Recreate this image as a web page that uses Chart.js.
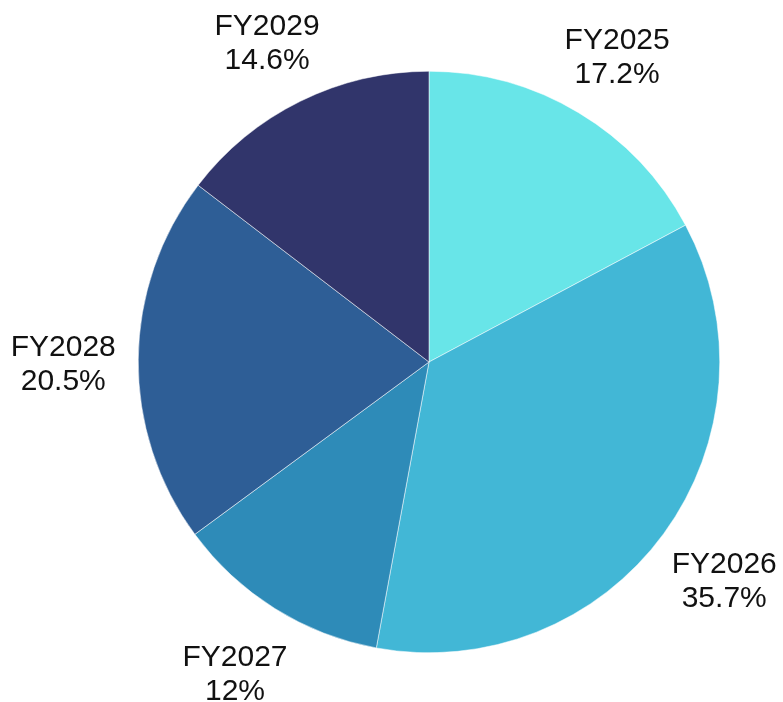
<!DOCTYPE html>
<html lang="en">
<head>
    <meta charset="UTF-8">
    <title>FY Share Pie</title>
    <script src="https://cdn.jsdelivr.net/npm/chart.js"></script>
    <style>
        html, body { margin: 0; padding: 0; background: #ffffff; }
        #wrap { width: 783px; height: 702px; }
    </style>
</head>
<body>
    <div id="wrap"><canvas id="shareChart" width="783" height="702"></canvas></div>

    <script>
        // Data
        const labels = ['FY2025', 'FY2026', 'FY2027', 'FY2028', 'FY2029'];
        const shares = [17.2, 35.7, 12, 20.5, 14.6];
        const colors = ['#68E5E8', '#42B7D6', '#2E8BB8', '#2E5E96', '#31356B'];

        // Labels sit outside each slice on its mid-angle (two lines, centred)
        const outsideLabels = {
            id: 'outsideLabels',
            afterDatasetsDraw(chart) {
                const ctx = chart.ctx;
                const meta = chart.getDatasetMeta(0);
                ctx.save();
                ctx.font = '30px "Liberation Sans", Arial, sans-serif';
                ctx.fillStyle = '#111111';
                ctx.textAlign = 'center';
                ctx.textBaseline = 'alphabetic';
                meta.data.forEach((arc, i) => {
                    const p = arc.getProps(['x', 'y', 'startAngle', 'endAngle', 'outerRadius'], true);
                    const mid = (p.startAngle + p.endAngle) / 2;
                    const x = p.x + Math.cos(mid) * (p.outerRadius + 75);
                    const y = p.y + Math.sin(mid) * (p.outerRadius + 71) + 3;
                    ctx.fillText(labels[i], x, y - 6);
                    ctx.fillText(shares[i] + '%', x, y + 28);
                });
                ctx.restore();
            }
        };

        new Chart(document.getElementById('shareChart'), {
            type: 'pie',
            data: {
                labels: labels,
                datasets: [{
                    data: shares,
                    backgroundColor: colors,
                    borderColor: '#ffffff',
                    borderWidth: 0.5
                }]
            },
            options: {
                responsive: false,
                animation: false,
                layout: { padding: { top: 71, bottom: 49, left: 138, right: 63 } },
                plugins: {
                    legend: { display: false },
                    tooltip: { enabled: false }
                }
            },
            plugins: [outsideLabels]
        });
    </script>
</body>
</html>
